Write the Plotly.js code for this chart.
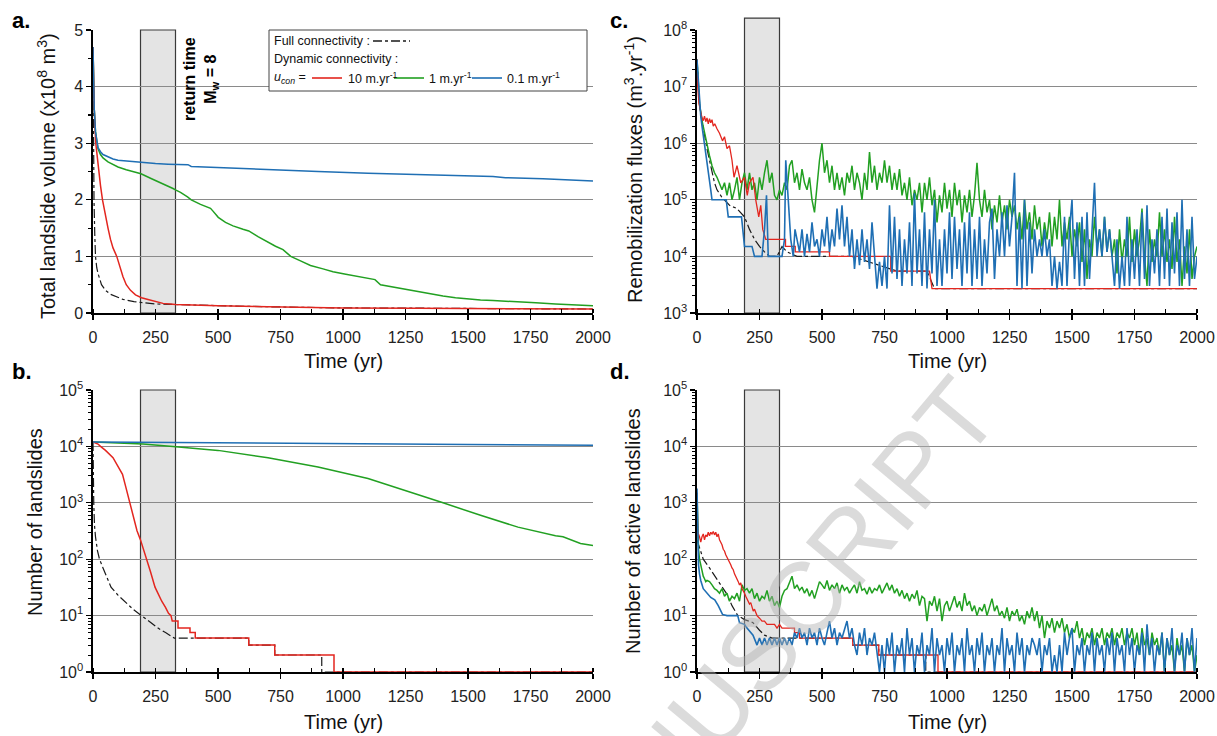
<!DOCTYPE html>
<html><head><meta charset="utf-8">
<script src="https://cdn.plot.ly/plotly-3.0.1.min.js"></script>
<style>html,body{margin:0;padding:0;background:#fff}#chart{width:1217px;height:736px}</style>
</head><body><div id="chart"></div>
<script>
// ================= DATA =================
const returnPeriod = [190, 330];           // grey "return time Mw = 8" window (yr)
const timeTicks = [0,250,500,750,1000,1250,1500,1750,2000];
const logTicksB = [1,10,100,1000,10000,100000];
const logTextB  = ['10<sup>0</sup>','10<sup>1</sup>','10<sup>2</sup>','10<sup>3</sup>','10<sup>4</sup>','10<sup>5</sup>'];
const logTicksC = [1e3,1e4,1e5,1e6,1e7,1e8];
const logTextC  = ['10<sup>3</sup>','10<sup>4</sup>','10<sup>5</sup>','10<sup>6</sup>','10<sup>7</sup>','10<sup>8</sup>'];

// ---- panel a : total landslide volume (x1e8 m3)
const aBlackT = [0,2,4,7,10,15,20,34,50,70,87,120,164,200,250,330,400,500,700,1000,1300,1600,2000];
const aBlackV = [4.7,3.0,2.0,1.4,1.0,0.8,0.7,0.5,0.4,0.33,0.3,0.24,0.2,0.18,0.16,0.15,0.14,0.13,0.11,0.09,0.085,0.08,0.07];
const aRedT = [0,5,11,20,30,38,50,60,70,80,95,110,120,133,150,170,194,220,250,280,330,400,500,700,1000,1300,1600,2000];
const aRedV = [4.7,3.6,3.0,2.6,2.25,2.0,1.7,1.5,1.3,1.15,1.0,0.78,0.64,0.5,0.4,0.32,0.27,0.24,0.2,0.17,0.15,0.14,0.13,0.11,0.09,0.085,0.08,0.07];
const aGreenT = [0,5,10,15,20,30,40,60,80,100,133,160,192,230,260,290,320,332,350,378,393,430,460,470,480,501,530,560,600,623,660,700,730,760,791,830,870,920,960,1006,1050,1100,1128,1150,1200,1235,1300,1350,1400,1450,1496,1550,1600,1700,1771,1850,1920,2000];
const aGreenV = [4.7,3.6,3.2,3.0,2.9,2.8,2.74,2.67,2.62,2.58,2.53,2.5,2.46,2.38,2.32,2.27,2.2,2.17,2.13,2.05,2.0,1.92,1.86,1.85,1.8,1.69,1.6,1.54,1.48,1.45,1.35,1.25,1.18,1.12,1.0,0.92,0.84,0.78,0.73,0.69,0.65,0.61,0.59,0.5,0.46,0.42,0.37,0.33,0.3,0.27,0.25,0.23,0.22,0.19,0.18,0.16,0.14,0.13];
const aBlueT = [0,5,10,15,20,30,40,60,80,100,150,192,250,300,380,393,500,700,900,1100,1300,1500,1600,1650,1800,2000];
const aBlueV = [4.7,3.6,3.2,3.0,2.92,2.85,2.8,2.76,2.72,2.7,2.68,2.65,2.64,2.63,2.62,2.59,2.57,2.53,2.5,2.47,2.45,2.42,2.41,2.39,2.37,2.33];

// ---- panel b : number of landslides
const bBlackT = [0,1,3,6,10,18,26,40,55,72,100,130,160,194,230,260,290,325,623,623,727,727,915,915,2000];
const bBlackV = [1.2e4,3e3,1e3,4e2,2.5e2,1.4e2,1e2,7e1,5e1,3.2e1,2.3e1,1.7e1,1.3e1,1e1,7.5,6,5,4,4,3,3,2,2,1,1];
const bRedT = [0,10,20,30,50,80,100,118,130,148,160,176,190,200,217,230,248,260,275,290,302,312,317,340,340,388,388,409,409,623,623,727,727,964,964,2000];
const bRedV = [1.2e4,1.15e4,1.1e4,1e4,8.5e3,6.3e3,4.5e3,3.2e3,2e3,1e3,6e2,3.2e2,2.2e2,1.6e2,1e2,6e1,3.2e1,2.4e1,1.8e1,1.4e1,1.1e1,1e1,8,8,6,6,5,5,4,4,3,3,2,2,1,1];
const bGreenT = [0,200,320,500,700,900,1100,1250,1400,1550,1700,1850,1880,1950,2000];
const bGreenV = [1.2e4,1.1e4,1e4,8.5e3,6.3e3,4.3e3,2.7e3,1.66e3,1e3,6e2,3.7e2,2.6e2,2.5e2,1.9e2,1.75e2];
const bBlueT = [0,500,1000,1500,2000];
const bBlueV = [1.2e4,1.17e4,1.13e4,1.08e4,1.05e4];

// sampling years of the noisy records after 400 yr (10-yr steps)
const gridT = Array.from({length: 161}, (_, i) => 400 + 10 * i);

// ---- panel c : remobilization fluxes (m3/yr)
const cBlackT = [0,5,10,20,30,40,50,60,70,80,100,130,160,190,210,230,250,270,290,320,340,360,400,620,800,920,950,2000];
const cBlackV = [3e7,1e7,5e6,2.5e6,1.3e6,8e5,5e5,3e5,2e5,1.5e5,1.1e5,8e4,7e4,5e4,3e4,2e4,1.5e4,1.2e4,1e4,1e4,1.5e4,1.2e4,1e4,1e4,5.5e3,5.5e3,2.7e3,2.7e3];
const cRedT = [0,3,8,15,20,25,30,35,40,45,50,55,60,65,71,80,90,102,110,120,130,140,148,160,175,190,201,210,224,235,247,255,263,275,301,354,354,393,393,530,530,775,775,930,940,2000];
const cRedV = [3e7,1e7,5e6,3.5e6,2.8e6,2.5e6,3e6,2.4e6,2.8e6,2.2e6,2.7e6,2.3e6,2.6e6,2e6,2.2e6,1.8e6,1.5e6,1.1e6,1.3e6,8e5,9e5,5e5,2.5e5,4e5,2e5,2.5e5,1.2e5,2e5,2.5e5,1e5,5e4,8e4,3e4,2e4,2e4,2e4,1.5e4,1.5e4,1.2e4,1.2e4,1e4,1e4,5.5e3,5.5e3,2.7e3,2.7e3];
const cGreenEarlyT = [0,5,10,20,30,40,50,60,70,80,90,100,110,120,130,140,150,160,170,180,190,200,210,220,230,240,250,260,270,280,290,300,310,320,330,340,350,360,370,380,390];
const cGreenEarlyV = [3e7,1e7,5e6,2.5e6,1.5e6,1e6,6e5,4e5,3e5,2.5e5,2e5,1.5e5,2e5,1.2e5,2e5,1e5,1.5e5,2.5e5,1e5,2e5,3e5,1.5e5,3e5,1.5e5,2e5,1e5,2.5e5,1.5e5,3e5,5e5,2e5,3e5,1.2e5,1e5,1.5e5,1.2e5,2e5,1.5e5,4e5,5e5,2e5];
const cGreenGrid = [
 3e5,1.5e5,3.5e5,2e5,1.5e5,2.5e5,1e5,6e4,2e5,5e5,
 1e6,3e5,5e5,2e5,4e5,1.5e5,3e5,1.5e5,2.5e5,1.2e5,
 3e5,2e5,4e5,1.5e5,3e5,2e5,1e5,3e5,1.5e5,7e5,
 2e5,4e5,1.5e5,3e5,2e5,5e5,2e5,4e5,1.5e5,3e5,
 1.5e5,3.5e5,1.2e5,2e5,1e5,2.5e5,8e4,1.5e5,1e5,2e5,
 6e4,2e5,1e5,2.5e5,8e4,1.5e5,4e4,1.2e5,6e4,2e5,
 7e4,1.5e5,5e4,2e5,8e4,1.5e5,4e4,1.2e5,6e4,1.5e5,
 5e4,1.2e5,4.5e5,1e5,5e4,1.5e5,6e4,1e5,3e4,8e4,
 4e4,1.2e5,4e4,8e4,3e4,1e5,5e4,8e4,3e4,6e4,
 2e4,1e5,3e4,6e4,2e4,8e4,3e4,5e4,1.5e4,4e4,
 2e4,6e4,1.5e4,5e4,2e4,1e5,1.5e4,4e4,2e4,5e4,
 1e4,3e4,1.5e4,4e4,8e3,3e4,4e3,2e4,1e4,5e4,
 1.5e4,3e4,1e4,5e4,1.2e4,3e4,1e4,2e4,5e3,3e4,
 8e3,2e4,1e4,5e4,8e3,3e4,1e4,2e4,7e4,1e4,
 3e3,3e4,8e3,2e4,1e4,6e4,1e4,3e4,8e3,2e4,
 6e3,5e4,8e3,2e4,3e3,1.5e4,5e3,3e4,4e3,1e4,
 1.5e4];
const cBlueEarlyT = [0,5,10,15,20,30,40,50,55,60,80,100,117,125,140,160,178,190,200,220,230,240,250,260,270,278,285,300,320,340,350,355,365,375,385,392];
const cBlueEarlyV = [3e7,1.2e7,5e6,3e6,2e6,1e6,5e5,2.5e5,1.5e5,1e5,1e5,1e5,1e5,5e4,5e4,5e4,5e4,1.5e4,1.5e4,1.5e4,1e4,1e4,1e4,1e4,3e4,1.2e5,1e4,1e4,1e4,1e4,2e4,5e5,1e5,2e4,1e4,3e4];
const cBlueGrid = [
 2e4,1.2e4,3e4,1e4,2.5e4,1.2e4,4e4,1.5e4,2e4,1e4,
 3e4,1.5e4,5e4,1.2e4,3e4,1.5e4,7e4,2e4,8e4,1.5e4,
 5e4,1e4,3e4,6e3,2e4,7e3,3e4,8e3,2e4,6e3,
 4e4,1e4,2.7e3,8e3,3e3,1e4,2.7e3,8e4,5e3,5e4,
 4e3,3e4,3e3,2e4,5e3,4e4,3e3,1.3e5,5e3,3e4,
 3e3,6e4,2.7e3,3e4,5e3,1e5,3e3,2e4,3e3,3e4,
 5e3,6e4,4e3,5e4,6e3,3e4,3e3,4e4,5e3,6e4,
 3e3,3e4,4e3,5e4,3e3,2e4,5e3,4e4,7e4,4e3,
 3e4,1e4,6e4,1e4,8e4,1.5e4,5e4,3e5,3e3,5e4,
 2.7e3,1e5,3e3,4e4,5e3,3e4,1e4,2e4,1e4,3e4,
 1e4,2e4,3e3,1e4,2.7e3,8e3,3e3,5e4,3e3,3e4,
 1e5,4e3,4e4,3e3,5e4,3e3,6e4,4e3,3e4,2e5,
 1e4,3e4,1e4,5e4,1.2e4,3e4,1e4,3e3,2e4,2.7e3,
 1e4,3e3,5e4,3e3,2e4,4e3,3e4,3e3,6e4,4e3,
 8e4,3e3,2e4,5e3,3e4,3e3,5e4,4e3,7e4,3e3,
 4e4,5e3,6e4,3e3,1e5,4e3,3e4,3e3,5e4,4e3,
 1e4];

// ---- panel d : number of active landslides
const dBlackT = [0,25,50,71,95,117,140,163,190,224,250,270,300,330,623,623,727,727,915,915,2000];
const dBlackV = [220,100,70,50,35,25,15,10,8.5,7.5,5.5,4.5,4,4,4,3,3,2,2,1,1];
const dRedT = [0,3,10,15,20,25,30,35,40,45,50,55,60,65,70,75,80,85,90,95,100,105,110,115,120,125,130,135,140,145,150,155,160,165,170,175,180,185,190,195,200,205,210,215,220,225,230,235,240,250,260,270,280,290,300,310,320,330,340,390,390,410,410,623,623,727,727,964,964,2000];
const dRedV = [1.5e3,300,250,200,250,280,220,270,250,300,260,300,280,310,270,300,250,280,220,200,180,150,140,120,110,95,90,80,70,65,55,50,45,40,35,38,30,28,25,22,20,18,16,17,14,12,13,11,10,9,8,8,7,7,7,7,6,7,6,6,5,5,4,4,3,3,2,2,1,1];
const dGreenEarlyT = [0,3,6,10,15,20,25,30,35,40,50,60,70,80,90,100,110,120,130,140,150,160,170,180,190,200,210,220,230,240,250,260,270,280,290,300,310,320,330,340,350,360,370,380,390];
const dGreenEarlyV = [1.5e3,300,150,100,80,60,50,45,40,42,40,35,30,28,25,30,22,25,18,22,20,25,18,35,28,30,25,30,20,25,18,22,20,28,18,22,15,18,14,22,28,30,40,50,30];
const dGreenGrid = [
 35,28,32,25,30,22,28,20,30,40,
 35,30,42,28,35,30,38,25,35,28,
 32,25,30,35,25,40,28,30,24,32,
 25,30,28,35,25,32,38,28,35,25,
 30,22,28,20,25,18,24,20,28,15,
 22,20,8,18,15,22,12,20,8,15,
 18,12,16,22,14,18,12,25,15,18,
 12,15,10,14,12,16,10,14,20,12,
 15,10,12,9,14,8,12,10,13,8,
 10,7,12,9,14,8,12,6,10,4,
 8,6,9,5,8,6,9,5,7,4,
 6,5,8,4,6,3,5,4,6,3,
 5,4,6,3,5,4,6,3,5,4,
 6,3,5,4,6,3,5,2,6,3,
 4,2,5,3,4,2,5,1,4,2,
 3,1,4,2,3,1,4,2,3,1,
 2];
const dBlueEarlyT = [0,3,6,10,15,25,40,55,71,85,102,120,140,163,170,190,200,224,240,250,260,270,280,290,300,310,320,330,340,350,360,370,380,390];
const dBlueEarlyV = [1.8e3,150,80,55,42,30,25,21,19,15,10.5,10,10,10,7.5,7,6,4.5,3,4,3,4,3,4,3,4,3,4,3,4,3,4,3,5];
const dBlueGrid = [
 4,6,4,5,3,6,4,5,3,6,
 4,3,5,8,4,6,3,5,4,6,
 8,4,6,3,2,5,3,6,2,4,
 3,5,2,1,3,1,4,2,5,1,
 3,2,4,1,6,2,4,1,3,2,
 5,1,3,2,6,1,4,2,3,1,
 4,2,5,1,3,2,4,1,6,2,
 3,1,4,2,5,1,3,2,4,1,
 3,2,6,1,4,2,3,1,5,2,
 4,1,3,2,4,3,2,4,1,3,
 2,4,1,2,1,3,1,5,2,4,
 6,1,3,2,4,1,3,2,5,1,
 4,2,3,1,4,2,5,1,4,2,
 3,1,6,2,4,1,3,2,5,1,
 7,2,4,1,3,2,5,1,4,2,
 6,1,3,2,5,1,4,2,6,1,
 4];

// ================= STYLE / LAYOUT =================
const W = 1217, H = 736;
const FONT = 'Arial, "Liberation Sans", sans-serif';
const RED = '#e3261f', GREEN = '#22a022', BLUE = '#1f6fb4', BLACK = '#1a1a1a';
const P = px => px / W, Q = py => 1 - py / H;

function line(x, y, color, xa, ya, width) {
  return {type: 'scatter', mode: 'lines', x: x, y: y, xaxis: xa, yaxis: ya,
    line: {color: color, width: width || 1.5}, hoverinfo: 'skip'};
}
function dashBlack(x, y, xa, ya) {
  const t = line(x, y, BLACK, xa, ya, 1.2); t.line.dash = 'dashdot'; return t;
}

const traces = [
  dashBlack(aBlackT, aBlackV, 'x', 'y'),
  line(aGreenT, aGreenV, GREEN, 'x', 'y'),
  line(aRedT, aRedV, RED, 'x', 'y'),
  line(aBlueT, aBlueV, BLUE, 'x', 'y'),

  dashBlack(bBlackT, bBlackV, 'x2', 'y2'),
  line(bGreenT, bGreenV, GREEN, 'x2', 'y2'),
  line(bRedT, bRedV, RED, 'x2', 'y2'),
  line(bBlueT, bBlueV, BLUE, 'x2', 'y2'),

  dashBlack(cBlackT, cBlackV, 'x3', 'y3'),
  line(cGreenEarlyT.concat(gridT), cGreenEarlyV.concat(cGreenGrid), GREEN, 'x3', 'y3', 1.5),
  line(cRedT, cRedV, RED, 'x3', 'y3', 1.3),
  line(cBlueEarlyT.concat(gridT), cBlueEarlyV.concat(cBlueGrid), BLUE, 'x3', 'y3', 1.6),

  dashBlack(dBlackT, dBlackV, 'x4', 'y4'),
  line(dGreenEarlyT.concat(gridT), dGreenEarlyV.concat(dGreenGrid), GREEN, 'x4', 'y4', 1.5),
  line(dRedT, dRedV, RED, 'x4', 'y4', 1.3),
  line(dBlueEarlyT.concat(gridT), dBlueEarlyV.concat(dBlueGrid), BLUE, 'x4', 'y4', 1.6)
];

const XL = [P(93), P(593)], XR = [P(697), P(1197)];
const YT = [Q(313), Q(30)], YB = [Q(672), Q(390)];

function xAxis(domain, anchor) {
  return {domain: domain, anchor: anchor, range: [0, 2000], tickmode: 'array', tickvals: timeTicks,
    ticks: 'outside', ticklen: 5, tickwidth: 1.3, tickcolor: '#000', ticklabelstandoff: 4,
    showline: true, linecolor: '#000', linewidth: 1.6, showgrid: false, zeroline: false,
    minor: {ticks: 'inside', ticklen: 4, tickwidth: 1.3, tickcolor: '#000', dtick: 125, tick0: 0, showgrid: false},
    tickfont: {family: FONT, size: 16, color: '#222'}, automargin: false, fixedrange: true};
}
function yLin(domain, anchor) {
  return {domain: domain, anchor: anchor, range: [0, 5], dtick: 1, tick0: 0,
    ticks: 'outside', ticklen: 5, tickwidth: 1.3, tickcolor: '#000',
    showline: true, linecolor: '#000', linewidth: 1.6, showgrid: true, gridcolor: '#8a8a8a', gridwidth: 1, zeroline: false,
    minor: {ticks: 'outside', ticklen: 3, tickwidth: 1.2, tickcolor: '#000', dtick: 0.5, showgrid: false},
    tickfont: {family: FONT, size: 16, color: '#222'}, automargin: false, fixedrange: true};
}
function yLog(domain, anchor, range, vals, text) {
  return {domain: domain, anchor: anchor, type: 'log', range: range, tickmode: 'array', tickvals: vals, ticktext: text,
    ticks: 'outside', ticklen: 5, tickwidth: 1.3, tickcolor: '#000',
    showline: true, linecolor: '#000', linewidth: 1.6, showgrid: true, gridcolor: '#8a8a8a', gridwidth: 1, zeroline: false,
    minor: {ticks: 'outside', ticklen: 3, tickwidth: 1, tickcolor: '#000', dtick: 'D1', showgrid: false},
    tickfont: {family: FONT, size: 16, color: '#222'}, automargin: false, fixedrange: true};
}

function box(xa, ya, top) {
  return {type: 'rect', xref: xa, yref: ya + ' domain', x0: returnPeriod[0], x1: returnPeriod[1], y0: 0, y1: top,
    fillcolor: '#e4e4e4', line: {color: '#3a3a3a', width: 1.2}, layer: 'below'};
}
const shapes = [
  box('x', 'y', 1), box('x2', 'y2', 1), box('x3', 'y3', 1.042), box('x4', 'y4', 1),
  // legend frame and samples (panel a)
  {type: 'rect', xref: 'paper', yref: 'paper', x0: P(269), x1: P(587), y0: Q(91), y1: Q(30), fillcolor: '#fff', line: {color: '#444', width: 1}},
  {type: 'line', xref: 'paper', yref: 'paper', x0: P(373), x1: P(410), y0: Q(41), y1: Q(41), line: {color: BLACK, width: 1.3, dash: 'dashdot'}},
  {type: 'line', xref: 'paper', yref: 'paper', x0: P(312), x1: P(342), y0: Q(78), y1: Q(78), line: {color: RED, width: 1.6}},
  {type: 'line', xref: 'paper', yref: 'paper', x0: P(394), x1: P(424), y0: Q(78), y1: Q(78), line: {color: GREEN, width: 1.6}},
  {type: 'line', xref: 'paper', yref: 'paper', x0: P(472), x1: P(502), y0: Q(78), y1: Q(78), line: {color: BLUE, width: 1.6}}
];

function ann(px, py, text, o) {
  return Object.assign({xref: 'paper', yref: 'paper', x: P(px), y: Q(py), text: text, showarrow: false,
    xanchor: 'center', yanchor: 'middle', font: {family: FONT, size: 20, color: '#111'}}, o || {});
}
const legFont = {family: FONT, size: 12.5, color: '#111'};
const letterFont = {family: FONT, size: 22, color: '#000'};
const annotations = [
  // watermark
  ann(760, 652, 'MANUSCRIPT', {textangle: -50, font: {family: FONT, size: 102, color: 'rgba(175,175,175,0.45)'}}),
  // panel letters
  ann(10, 20, '<b>a.</b>', {xanchor: 'left', font: letterFont}),
  ann(10, 371, '<b>b.</b>', {xanchor: 'left', font: letterFont}),
  ann(608, 20, '<b>c.</b>', {xanchor: 'left', font: letterFont}),
  ann(608, 371, '<b>d.</b>', {xanchor: 'left', font: letterFont}),
  // axis titles
  ann(47, 176, 'Total landslide volume (x10<sup>8</sup> m<sup>3</sup>)', {textangle: -90}),
  ann(35, 522, 'Number of landslides', {textangle: -90}),
  ann(634, 170, 'Remobilization fluxes (m<sup>3</sup>.yr<sup>-1</sup>)', {textangle: -90}),
  ann(633, 531, 'Number of active landslides', {textangle: -90}),
  ann(343, 361, 'Time (yr)'), ann(343, 722, 'Time (yr)'),
  ann(947, 361, 'Time (yr)'), ann(947, 722, 'Time (yr)'),
  // return time label
  ann(201, 79, '<b>return time</b><br><b>M<sub>w</sub> = 8</b>', {textangle: -90, font: {family: FONT, size: 16, color: '#000'}}),
  // legend texts
  ann(272, 41, 'Full connectivity :', {xanchor: 'left', font: legFont}),
  ann(272, 59, 'Dynamic connectivity :', {xanchor: 'left', font: legFont}),
  ann(272, 78, '<i>u</i><sub><i>con</i></sub> =', {xanchor: 'left', font: legFont}),
  ann(346, 78, '10 m.yr<sup>-1</sup>', {xanchor: 'left', font: legFont}),
  ann(427, 78, '1 m.yr<sup>-1</sup>', {xanchor: 'left', font: legFont}),
  ann(505, 78, '0.1 m.yr<sup>-1</sup>', {xanchor: 'left', font: legFont})
];

const layout = {
  width: W, height: H, margin: {l: 0, r: 0, t: 0, b: 0},
  paper_bgcolor: '#fff', plot_bgcolor: 'rgba(0,0,0,0)', showlegend: false,
  font: {family: FONT, color: '#111'},
  xaxis: xAxis(XL, 'y'), yaxis: yLin(YT, 'x'),
  xaxis2: xAxis(XL, 'y2'), yaxis2: yLog(YB, 'x2', [0, 5], logTicksB, logTextB),
  xaxis3: xAxis(XR, 'y3'), yaxis3: yLog(YT, 'x3', [3, 8], logTicksC, logTextC),
  xaxis4: xAxis(XR, 'y4'), yaxis4: yLog(YB, 'x4', [0, 5], logTicksB, logTextB),
  shapes: shapes, annotations: annotations
};
Plotly.newPlot('chart', traces, layout, {displayModeBar: false, staticPlot: true});
</script></body></html>
